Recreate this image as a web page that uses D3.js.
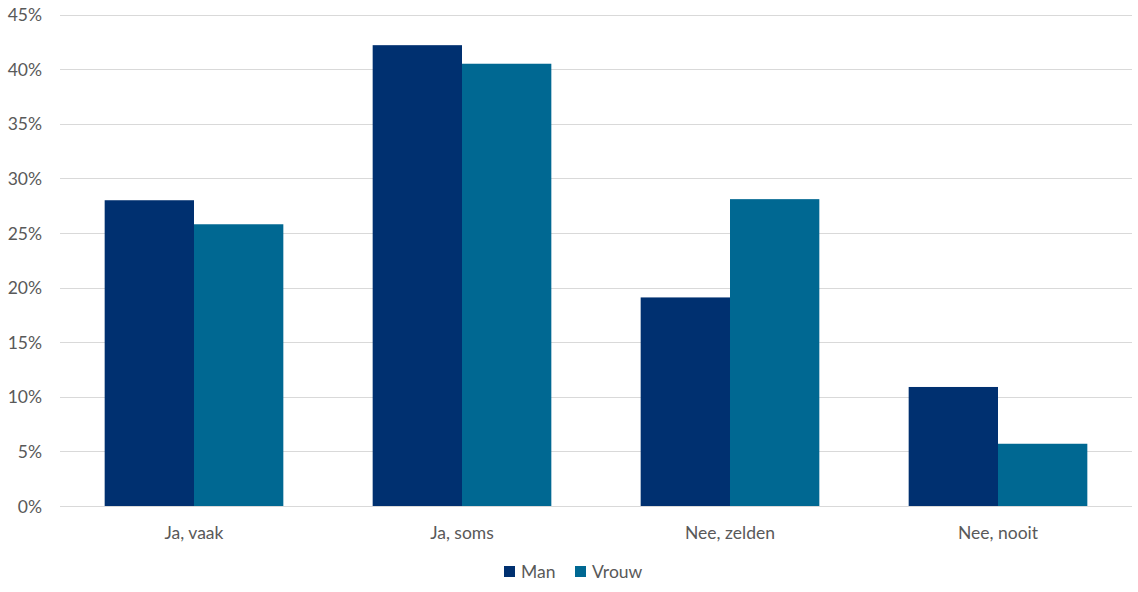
<!DOCTYPE html>
<html><head><meta charset="utf-8">
<script src="https://cdn.jsdelivr.net/npm/d3@7"></script>
<style>body{margin:0;background:#fff}svg{display:block}text{font-family:Lato,"Open Sans",sans-serif;fill:#595959}</style>
</head><body><svg id="c" width="1138" height="592"></svg>
<script>
const categories = ["Ja, vaak", "Ja, soms", "Nee, zelden", "Nee, nooit"];
const series = ["Man", "Vrouw"];
const man = [28.0, 42.2, 19.1, 10.9];
const vrouw = [25.8, 40.5, 28.1, 5.7];
const yTicks = [0, 5, 10, 15, 20, 25, 30, 35, 40, 45];
const colors = ["#003070", "#006892"];

const svg = d3.select("#c");
const L = 60, R = 1132, T = 14.6, B = 506;
const x = d3.scaleBand().domain(categories).range([L, R]).paddingInner(0).paddingOuter(0);
const xs = d3.scaleBand().domain(series).range([0, x.bandwidth()]).paddingOuter(0.5).paddingInner(0);
const y = d3.scaleLinear().domain([0, 45]).range([B, T]);

const g = svg.append("g");
g.selectAll("line.grid").data(yTicks).join("line")
  .attr("x1", L).attr("x2", R)
  .attr("y1", d => Math.round(y(d)) + 0.5).attr("y2", d => Math.round(y(d)) + 0.5)
  .attr("stroke", "#d9d9d9").attr("stroke-width", 1);

const yAxis = d3.axisLeft(y).tickValues(yTicks).tickFormat(d => d + "%").tickSize(0).tickPadding(0);
const ya = svg.append("g").attr("transform", `translate(42,0)`).call(yAxis);
ya.select(".domain").remove();
ya.selectAll("text").style("font-size", "17.5px").style("fill", "#595959").attr("dy", "0.35em")
  .style("font-family", "Lato, 'Open Sans', sans-serif");

const data = [man, vrouw];
series.forEach((s, i) => {
  g.selectAll("rect.s" + i).data(categories).join("rect")
    .attr("x", c => x(c) + xs(s))
    .attr("width", xs.bandwidth())
    .attr("y", (c, j) => y(data[i][j]))
    .attr("height", (c, j) => B - y(data[i][j]))
    .attr("fill", colors[i]);
});

const xAxis = d3.axisBottom(x).tickSize(0).tickPadding(0);
const xa = svg.append("g").attr("transform", `translate(0,${B})`).call(xAxis);
xa.select(".domain").remove();
xa.selectAll("text").attr("y", 27).attr("dy", "0.35em").style("font-size", "17.5px").style("fill", "#595959")
  .style("font-family", "Lato, 'Open Sans', sans-serif");

const leg = svg.append("g");
const legX = [504, 575];
series.forEach((s, i) => {
  leg.append("rect").attr("x", legX[i]).attr("y", 566).attr("width", 11).attr("height", 11).attr("fill", colors[i]);
  leg.append("text").attr("x", legX[i] + 17).attr("y", 572).attr("dy", "0.35em").style("font-size", "17.5px").text(s);
});
</script></body></html>
